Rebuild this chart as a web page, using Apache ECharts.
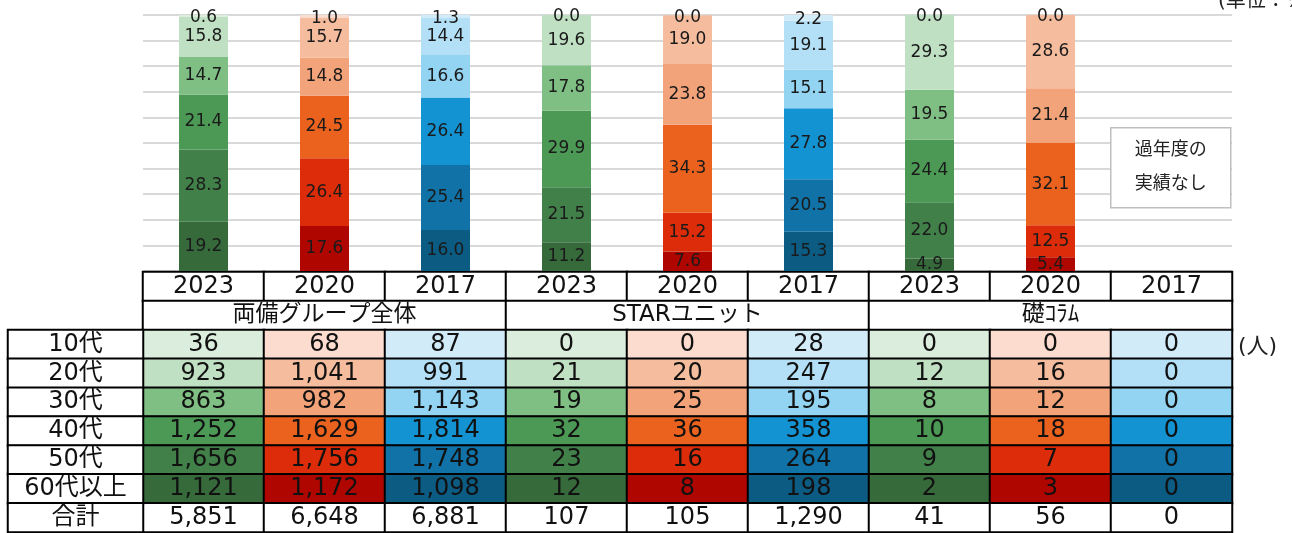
<!DOCTYPE html>
<html>
<head>
<meta charset="utf-8">
<script src="https://cdn.jsdelivr.net/npm/echarts@6/dist/echarts.min.js"></script>
<style>
  html, body { margin: 0; padding: 0; background: #fff; }
  #chart { width: 1292px; height: 533px; }
</style>
</head>
<body>
<div id="chart"></div>
<script>
// columns: group x year
const years = ['2023', '2020', '2017', '2023', '2020', '2017', '2023', '2020', '2017'];
const groups = ['両備グループ全体', 'STARユニット', '礎ｺﾗﾑ'];
const ageLabels = ['10代', '20代', '30代', '40代', '50代', '60代以上'];
const rowLabels = ['10代', '20代', '30代', '40代', '50代', '60代以上', '合計'];

// percentage per age group (礎ｺﾗﾑ 2017 has no data)
const pct10 = [0.6, 1.0, 1.3, 0.0, 0.0, 2.2, 0.0, 0.0, null];
const pct20 = [15.8, 15.7, 14.4, 19.6, 19.0, 19.1, 29.3, 28.6, null];
const pct30 = [14.7, 14.8, 16.6, 17.8, 23.8, 15.1, 19.5, 21.4, null];
const pct40 = [21.4, 24.5, 26.4, 29.9, 34.3, 27.8, 24.4, 32.1, null];
const pct50 = [28.3, 26.4, 25.4, 21.5, 15.2, 20.5, 22.0, 12.5, null];
const pct60 = [19.2, 17.6, 16.0, 11.2, 7.6, 15.3, 4.9, 5.4, null];

// head counts (人)
const cnt10 = [36, 68, 87, 0, 0, 28, 0, 0, 0];
const cnt20 = [923, 1041, 991, 21, 20, 247, 12, 16, 0];
const cnt30 = [863, 982, 1143, 19, 25, 195, 8, 12, 0];
const cnt40 = [1252, 1629, 1814, 32, 36, 358, 10, 18, 0];
const cnt50 = [1656, 1756, 1748, 23, 16, 264, 9, 7, 0];
const cnt60 = [1121, 1172, 1098, 12, 8, 198, 2, 3, 0];
const cntTotal = [5851, 6648, 6881, 107, 105, 1290, 41, 56, 0];

// colour shades per year family, index = age group (10代 .. 60代以上)
const greens = ['#dbeddc', '#c0e0c3', '#7fbf83', '#4c9955', '#428049', '#366a3b'];
const oranges = ['#fbdccf', '#f5bc9e', '#f3a37a', '#eb621e', '#dd2c09', '#b00600'];
const blues = ['#d2ebf9', '#b3e0f6', '#94d4f3', '#1393d2', '#1072a6', '#0c5b83'];
const families = [greens, oranges, blues];

const FONT = "'DejaVu Sans', 'Noto Sans CJK JP', sans-serif";

const pctRows = [pct10, pct20, pct30, pct40, pct50, pct60];
const cntRows = [cnt10, cnt20, cnt30, cnt40, cnt50, cnt60, cntTotal];

const chart = echarts.init(document.getElementById('chart'));

// stacked bars, bottom first (60代以上 -> 10代)
const barSeries = [5, 4, 3, 2, 1, 0].map((age) => ({
  name: ageLabels[age],
  type: 'bar',
  stack: 'total',
  barWidth: 49,
  xAxisIndex: 0,
  yAxisIndex: 0,
  clip: false,
  data: pctRows[age].map((v, i) => ({
    value: v == null ? '-' : v,
    itemStyle: { color: families[i % 3][age] }
  })),
  label: {
    show: true,
    position: 'inside',
    offset: age === 0 ? [0, 2] : [0, 0],
    color: '#1a1a1a',
    fontFamily: FONT,
    fontSize: 17,
    formatter: (p) => (typeof p.value === 'number' ? p.value.toFixed(1) : '')
  },
  emphasis: { disabled: true }
}));

const cellBorder = { borderColor: '#000', borderWidth: 2 };
const cellLabel = { show: true, color: '#111', fontFamily: FONT, fontSize: 24 };

const yearCells = years.map((y, i) => ({ value: [i, 0, Number(y)], itemStyle: { color: '#fff' } }));
const groupCells = groups.map((g, i) => ({ value: [i, 0, i], itemStyle: { color: '#fff' } }));
const dataCells = [];
cntRows.forEach((row, r) => {
  row.forEach((v, c) => {
    const color = r < 6 ? families[c % 3][r] : '#fff';
    dataCells.push({ value: [c, r, v], itemStyle: { color } });
  });
});
const labelCells = rowLabels.map((t, r) => ({ value: [0, r, r], itemStyle: { color: '#fff' } }));

const hiddenAxis = (type, data, gridIndex, extra) => Object.assign({
  type, data, gridIndex,
  axisLine: { show: false }, axisTick: { show: false }, axisLabel: { show: false },
  splitLine: { show: false }
}, extra || {});

const option = {
  animation: false,
  grid: [
    { left: 143, width: 1089, top: 15, height: 256 },   // chart
    { left: 143, width: 1089, top: 272, height: 29 },   // year row
    { left: 143, width: 1089, top: 301, height: 29 },   // group row
    { left: 143, width: 1089, top: 330, height: 202 },  // counts
    { left: 8, width: 135, top: 330, height: 202 }      // row labels
  ],
  xAxis: [
    hiddenAxis('category', years.map((y, i) => i), 0),
    hiddenAxis('category', years.map((y, i) => i), 1),
    hiddenAxis('category', groups, 2),
    hiddenAxis('category', years.map((y, i) => i), 3),
    hiddenAxis('category', ['label'], 4)
  ],
  yAxis: [
    {
      type: 'value', gridIndex: 0, min: 0, max: 100, interval: 10,
      axisLine: { show: false }, axisTick: { show: false }, axisLabel: { show: false },
      splitLine: { lineStyle: { color: '#d9d9d9', width: 2 } }
    },
    hiddenAxis('category', ['y'], 1),
    hiddenAxis('category', ['g'], 2),
    hiddenAxis('category', rowLabels, 3, { inverse: true }),
    hiddenAxis('category', rowLabels, 4, { inverse: true })
  ],
  series: barSeries.concat([
    {
      type: 'heatmap', xAxisIndex: 1, yAxisIndex: 1, data: yearCells,
      itemStyle: cellBorder, emphasis: { disabled: true },
      label: Object.assign({}, cellLabel, { formatter: (p) => years[p.value[0]] })
    },
    {
      type: 'heatmap', xAxisIndex: 2, yAxisIndex: 2, data: groupCells,
      itemStyle: cellBorder, emphasis: { disabled: true },
      label: Object.assign({}, cellLabel, { fontSize: 23, formatter: (p) => groups[p.value[0]] })
    },
    {
      type: 'heatmap', xAxisIndex: 3, yAxisIndex: 3, data: dataCells,
      itemStyle: cellBorder, emphasis: { disabled: true },
      label: Object.assign({}, cellLabel, { formatter: (p) => p.value[2].toLocaleString('en-US') })
    },
    {
      type: 'heatmap', xAxisIndex: 4, yAxisIndex: 4, data: labelCells,
      itemStyle: cellBorder, emphasis: { disabled: true },
      label: Object.assign({}, cellLabel, { formatter: (p) => rowLabels[p.value[2]] })
    }
  ]),
  graphic: [
    {
      type: 'text', left: 1218, top: -8, z: 100,
      style: { text: '(単位：%)', fontFamily: FONT, fontSize: 20, fill: '#222' }
    },
    {
      type: 'text', left: 1238, top: 336, z: 100,
      style: { text: '(人)', fontFamily: FONT, fontSize: 22, fill: '#222' }
    },
    {
      type: 'group', left: 1110, top: 127, z: 100,
      children: [
        {
          type: 'rect', z: 100, shape: { x: 0, y: 0, width: 120, height: 80 },
          style: { fill: '#fff', stroke: '#bfbfbf', lineWidth: 1.5 }
        },
        {
          type: 'text', z: 101, x: 60, y: 40,
          style: {
            text: '過年度の\n実績なし', align: 'center', verticalAlign: 'middle',
            fontFamily: FONT, fontSize: 18, lineHeight: 34, fill: '#222'
          }
        }
      ]
    }
  ]
};

chart.setOption(option);
</script>
</body>
</html>
